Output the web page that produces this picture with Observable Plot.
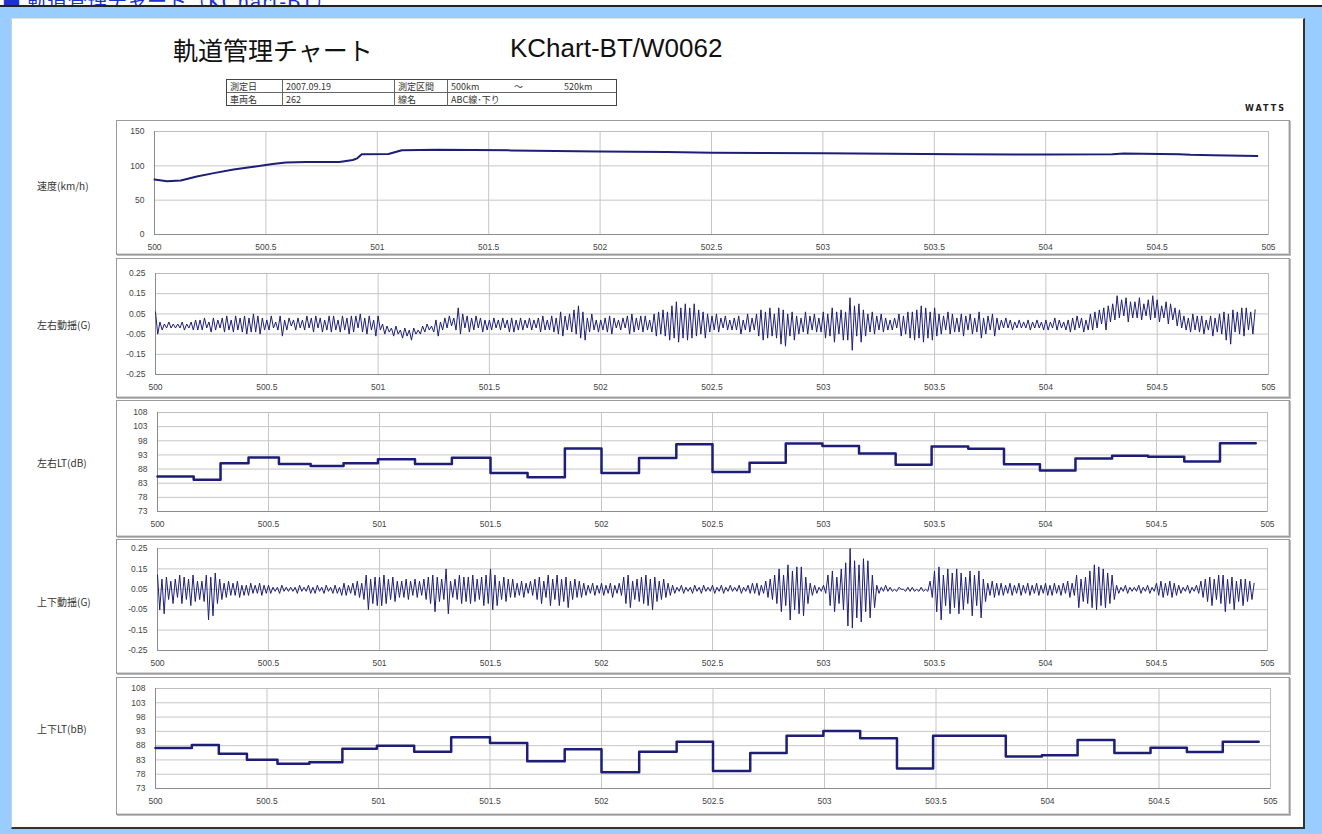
<!DOCTYPE html>
<html><head><meta charset="utf-8">
<script src="https://cdn.jsdelivr.net/npm/d3@7"></script>
<script src="https://cdn.jsdelivr.net/npm/@observablehq/plot@0.6"></script>
<style>
body{margin:0;width:1322px;height:834px;background:#99ccff;overflow:hidden;position:relative;font-family:"Liberation Sans","Noto Sans CJK JP",sans-serif;}
.abs{position:absolute;white-space:nowrap}
#topstrip{left:0;top:0;width:1322px;height:5px;background:#fff;overflow:hidden;border-bottom:2px solid #222;}
#toplink{left:2px;top:-14px;font:20px "DejaVu Serif","Noto Sans CJK JP",serif;color:#1a33cc;text-decoration:underline;}
#doc{left:11px;top:18px;width:1294px;height:811px;background:#fff;border-left:1px solid #c8d0d8;border-top:1px solid #e0e0e0;border-right:2px solid #333;border-bottom:2px solid #333;box-sizing:border-box;}
.title{font-size:25px;color:#111;line-height:25px;}
.cell{position:absolute;height:13px;line-height:13px;font-size:9px;color:#333;font-family:"Noto Sans CJK JP","Liberation Sans",sans-serif;border-right:1px solid #666;box-sizing:border-box;padding-left:3px;}
.frame{position:absolute;border:1px solid #9a9a9a;box-shadow:inset -1px -1px 0 #d8d8d8, 1px 1px 0 #bdbdbd;box-sizing:border-box;background:#fff;}
.lab{position:absolute;font-size:10px;color:#333;font-family:"Noto Sans CJK JP",sans-serif;transform:translateY(-50%);white-space:nowrap;}
svg{position:absolute;overflow:visible}
</style>
</head><body>
<div id="topstrip" class="abs"><div id="toplink" class="abs">■ 軌道管理チャート（KChart-BT）</div></div>
<div id="doc" class="abs"></div>
<div class="abs title" style="left:173px;top:37px;font-family:'Noto Sans CJK JP',sans-serif;">軌道管理チャート</div>
<div class="abs title" style="left:510px;top:36px;font-size:26px;">KChart-BT/W0062</div>
<div id="info" class="abs" style="left:226px;top:79px;width:391px;height:27px;border:1px solid #444;box-sizing:border-box;"></div>
<div class="abs" style="left:1245px;top:104px;font:bold 8px 'DejaVu Sans',sans-serif;letter-spacing:2px;color:#222;">WATTS</div>
<script>
// ---- data ----
const xTicks = [500, 500.5, 501, 501.5, 502, 502.5, 503, 503.5, 504, 504.5, 505];
const speedTicks = [0, 50, 100, 150];
const gTicks = [-0.25, -0.15, -0.05, 0.05, 0.15, 0.25];
const ltTicks = [73, 78, 83, 88, 93, 98, 103, 108];
const panelLabels = ["速度(km/h)", "左右動揺(G)", "左右LT(dB)", "上下動揺(G)", "上下LT(bB)"];

const infoRow1 = ["測定日", "2007.09.19", "測定区間", "500km"];
const infoRow2 = ["車両名", "262", "線名", "ABC線･下り"];
const infoRange = ["～", "520km"];

const speedKm  = [500, 500.056, 500.118, 500.19, 500.266, 500.355, 500.444, 500.53, 500.59, 500.68, 500.83, 500.89, 500.91, 500.93, 501.05, 501.11, 501.27, 501.6, 502.0, 502.3, 502.5, 503.0, 503.3, 503.6, 504.0, 504.3, 504.35, 504.6, 504.65, 504.75, 504.95];
const speedVal = [80, 77.7, 78.6, 84.5, 89.4, 94.8, 98.7, 102.6, 105, 105.5, 105.5, 108.5, 110.9, 116.8, 117.2, 122.6, 123.5, 122.5, 121, 120, 119, 118.5, 117.5, 117, 116.5, 117, 118, 117, 116, 115.5, 114.5];

// LT step start positions (km), last entry = end of data
const ltStepKm = [500, 500.163, 500.284, 500.41, 500.547, 500.69, 500.838, 500.993, 501.16, 501.326, 501.5, 501.667, 501.835, 502.0, 502.169, 502.337, 502.5, 502.667, 502.83, 502.995, 503.16, 503.325, 503.487, 503.652, 503.813, 503.975, 504.135, 504.3, 504.462, 504.625, 504.786, 504.947];
const lateralLT  = [85.4, 84.2, 90.1, 92.1, 89.8, 89.1, 90.1, 91.5, 89.8, 92.0, 86.6, 85.1, 95.3, 86.6, 91.9, 96.8, 87.0, 90.2, 97.0, 96.2, 93.5, 89.5, 96.0, 95.2, 89.7, 87.5, 91.7, 92.7, 92.4, 90.7, 97.1];
const verticalLT = [87.2, 88.2, 85.2, 83.1, 81.7, 82.2, 86.9, 88.0, 85.9, 90.9, 88.9, 82.5, 86.7, 78.7, 85.9, 89.4, 79.1, 85.4, 91.5, 93.1, 90.6, 80.0, 91.5, 91.5, 84.2, 84.6, 90.0, 85.4, 87.3, 85.8, 89.4];

// acceleration samples (units of 0.01 G), one every sampleStep km from sampleStart
const sampleStart = 500, sampleStep = 0.01;
const lateralCentiG = [
6,-5,1,-3,0,-2,1,-2,0,-2, 0,-2,1,-3,0,-2,1,-3,2,-3, 2,-3,3,-2,1,-4,3,-3,2,-2, 3,-4,4,-3,2,-4,4,-3,3,-4, 4,-5,3,-4,5,-4,4,-5,3,-3,
2,-3,4,-2,1,-3,4,-6,2,-3, 3,-1,2,-3,3,-2,2,-3,4,-2, 3,-4,4,-2,3,-4,2,-3,4,-4, 4,-3,2,-4,4,-3,3,-5,4,-4, 4,-2,5,-4,3,-5,4,-3,2,-6,
4,-3,0,-5,-1,-4,-2,-6,-1,-5, -3,-7,-2,-6,-3,-8,-2,-5,-3,-5, -1,-4,0,-3,-1,-4,2,-6,1,-3, 3,-2,4,-1,3,-3,8,-5,5,-2, 4,-4,3,-3,4,-2,3,-4,2,-3,
2,-3,3,-2,2,-3,3,-2,2,-4, 3,-4,2,-3,3,-3,2,-2,3,-3, 2,-2,3,-4,4,-3,2,-3,4,-4, 3,-5,6,-6,4,-3,5,-4,7,-5, 9,-7,6,-8,3,-4,5,-3,2,-4,
2,-3,3,-4,4,-5,3,-2,2,-3, 3,-2,4,-5,5,-4,3,-3,4,-4, 4,-3,2,-4,5,-6,6,-5,7,-6, 6,-8,9,-7,11,-9,8,-7,10,-8, 8,-7,10,-6,7,-5,6,-7,5,-4,
4,-3,5,-4,3,-2,4,-3,2,-3, 3,-3,4,-5,2,-3,5,-4,3,-3, 5,-6,7,-8,6,-7,8,-6,5,-7, 8,-10,7,-11,5,-6,6,-8,4,-5, 3,-4,6,-5,4,-3,5,-4,3,-4,
6,-7,5,-6,8,-9,6,-5,7,-8, 6,-8,13,-13,9,-6,10,-9,7,-6, 5,-4,6,-5,4,-3,5,-4,3,-3, 2,-3,3,-2,5,-6,4,-5,6,-7, 6,-8,7,-7,9,-9,8,-7,6,-8,
8,-6,5,-5,4,-3,6,-5,5,-4, 3,-4,5,-6,4,-3,5,-5,3,-4, 6,-7,3,-5,4,-3,5,-6,3,-3, 2,-2,3,-2,2,-3,1,-2,2,-2, 1,-2,2,-3,1,-2,2,-2,1,-3,
2,-3,1,-2,3,-3,2,-2,1,-3, 2,-4,3,-3,4,-2,3,-4,2,-3, 5,-3,6,-2,7,0,8,-3,9,1, 10,2,14,3,12,4,13,1,11,3, 11,3,13,2,10,4,12,2,14,3,
12,1,9,3,11,0,10,2,8,-1, 7,-2,4,-3,3,-4,5,-3,4,-4, 4,-5,2,-3,4,-6,3,-4,5,-5, 6,-8,5,-10,7,-4,6,-5,8,-6, 8,-3,6,-5,7];
const verticalCentiG = [
12,-5,10,-7,11,0,9,-2,10,1, 12,-2,11,0,10,-3,12,-1,9,0, 9,-1,12,-10,11,-8,13,-2,10,0, 8,1,9,2,8,2,9,1,7,2, 7,2,8,3,7,3,8,2,7,3,
7,3,6,4,6,3,7,4,6,4, 6,4,6,3,7,4,6,4,7,3, 6,3,7,4,6,3,7,4,6,3, 7,3,6,2,8,2,7,3,8,2, 9,1,8,0,12,-5,10,-2,11,-3,
11,-3,12,-2,10,0,11,-1,9,1, 9,1,10,0,9,2,10,1,9,2, 10,0,11,-2,12,-6,11,-1,10,0, 15,-7,9,1,10,0,12,-2,11,-1, 11,-2,12,-1,10,0,11,-3,12,-2,
15,-5,12,-3,9,0,11,-1,10,1, 10,1,8,2,9,1,8,3,9,2, 10,0,11,-2,9,1,12,-3,10,0, 12,-3,10,-1,11,-4,9,0,10,1, 9,1,8,2,7,3,8,2,7,3,
8,2,7,3,8,1,7,3,8,2, 11,-2,12,-4,9,0,10,-1,11,-2, 12,-3,10,-5,11,-1,9,0,10,1, 8,2,7,3,6,4,7,3,6,4, 6,3,7,4,6,3,7,4,6,4,
7,3,6,4,7,3,6,4,7,4, 6,4,7,3,6,4,7,3,8,3, 8,2,7,3,9,1,10,0,12,-2, 15,-6,12,-3,17,-10,14,-5,16,-7, 16,-8,11,-2,8,2,7,3,6,4,
7,3,12,-3,14,-6,11,-2,15,-5, 18,-13,25,-14,19,-9,17,-11,20,-6, 19,-9,12,-4,7,3,6,4,7,4, 6,4,5,4,6,5,5,4,6,4, 6,4,5,4,6,4,5,4,9,1,
14,-6,16,-10,12,-3,15,-7,13,-4, 15,-7,13,-5,11,-2,14,-8,12,-3, 14,-9,10,-1,8,2,9,1,8,2, 8,2,7,3,8,2,7,3,8,2, 7,3,8,2,7,3,8,2,7,3,
8,2,7,2,8,3,7,2,8,3, 9,1,8,2,12,-4,10,-1,11,-2, 14,-4,17,-5,16,-3,15,-4,13,-2, 12,0,7,3,6,4,7,3,6,4, 6,4,7,3,6,4,7,3,6,4,
8,2,9,1,8,2,9,1,8,2, 7,3,6,4,7,3,6,4,7,3, 9,1,10,-1,11,-3,10,0,12,-2, 12,-6,10,-2,11,-5,9,-1,10,-3, 10,-1,9,0,8];

// ---- info table ----
const info = document.getElementById("info");
const colX = [0, 56, 168, 221], colW = [56, 112, 53, 168];
[infoRow1, infoRow2].forEach((row, r) => row.forEach((t, c) => {
  const d = document.createElement("div");
  d.className = "cell";
  d.style.left = colX[c] + "px"; d.style.top = (r * 13) + "px"; d.style.width = colW[c] + "px";
  if (c === 3) d.style.borderRight = "none";
  if (r === 0) d.style.borderBottom = "1px solid #666";
  d.textContent = t;
  info.appendChild(d);
}));
[[284, infoRange[0]], [334, infoRange[1]]].forEach(([x, t]) => {
  const d = document.createElement("div");
  d.className = "cell"; d.style.border = "none";
  d.style.left = x + "px"; d.style.top = "0px"; d.textContent = t;
  info.appendChild(d);
});

// ---- panels ----
const ink = "#1e1e78";
const font = "'Liberation Sans', Arial, sans-serif";
function panel(frame, plot, yDomain, yTicks, yFmt, marks, label, labelY) {
  const [fx0, fy0, fx1, fy1] = frame, [px0, py0, px1, py1] = plot;
  const fr = document.createElement("div");
  fr.className = "frame";
  Object.assign(fr.style, {left: fx0 + "px", top: fy0 + "px", width: (fx1 - fx0) + "px", height: (fy1 - fy0) + "px"});
  document.body.appendChild(fr);
  const svg = Plot.plot({
    width: fx1 - fx0, height: fy1 - fy0,
    marginLeft: px0 - fx0, marginRight: fx1 - px1, marginTop: py0 - fy0, marginBottom: fy1 - py1,
    style: {background: "transparent", fontFamily: font, fontSize: "8.5px", color: "#444"},
    x: {domain: [500, 505]},
    y: {domain: yDomain},
    marks: [
      Plot.gridX(xTicks, {stroke: "#c6c6c6", strokeOpacity: 1}),
      Plot.gridY(yTicks, {stroke: "#c6c6c6", strokeOpacity: 1}),
      Plot.frame({stroke: "#bdbdbd"}),
      Plot.ruleX([500], {stroke: "#8c8c8c"}),
      Plot.ruleY([yDomain[0]], {stroke: "#8c8c8c"}),
      Plot.axisX(xTicks, {tickSize: 0, tickPadding: 9, tickFormat: d => String(d), label: null, fill: "#444"}),
      Plot.axisY(yTicks, {tickSize: 0, tickPadding: 10, tickFormat: yFmt, label: null, fill: "#444"}),
      ...marks
    ]
  });
  svg.style.left = fx0 + "px"; svg.style.top = fy0 + "px";
  document.body.appendChild(svg);
  const lb = document.createElement("div");
  lb.className = "lab"; lb.style.left = "37px"; lb.style.top = labelY + "px"; lb.textContent = label;
  document.body.appendChild(lb);
}
const sampleKm = d3.range(lateralCentiG.length).map(i => sampleStart + i * sampleStep);
const stepRows = vals => ltStepKm.map((k, i) => ({km: k, v: vals[Math.min(i, vals.length - 1)]}));
const fmtG = d => d.toFixed(2);

panel([116, 120, 1290, 255], [154, 131, 1268, 234], [0, 150], speedTicks, d => String(d),
  [Plot.line(speedKm, {x: d => d, y: (d, i) => speedVal[i], stroke: ink, strokeWidth: 2})], panelLabels[0], 185);
panel([116, 258, 1290, 398], [155, 273, 1268, 374], [-0.25, 0.25], gTicks, fmtG,
  [Plot.line(sampleKm, {x: d => d, y: (d, i) => lateralCentiG[i] / 100, stroke: ink, strokeWidth: 1})], panelLabels[1], 324);
panel([116, 400, 1290, 537], [157, 412, 1267, 511], [73, 108], ltTicks, d => String(d),
  [Plot.line(stepRows(lateralLT), {x: "km", y: "v", curve: "step-after", stroke: ink, strokeWidth: 2.5})], panelLabels[2], 462);
panel([116, 539, 1290, 674], [157, 548, 1267, 650], [-0.25, 0.25], gTicks, fmtG,
  [Plot.line(sampleKm, {x: d => d, y: (d, i) => verticalCentiG[i] / 100, stroke: ink, strokeWidth: 1})], panelLabels[3], 601);
panel([116, 677, 1290, 815], [155, 688, 1270, 788], [73, 108], ltTicks, d => String(d),
  [Plot.line(stepRows(verticalLT), {x: "km", y: "v", curve: "step-after", stroke: ink, strokeWidth: 2.5})], panelLabels[4], 728);
</script>
</body></html>
